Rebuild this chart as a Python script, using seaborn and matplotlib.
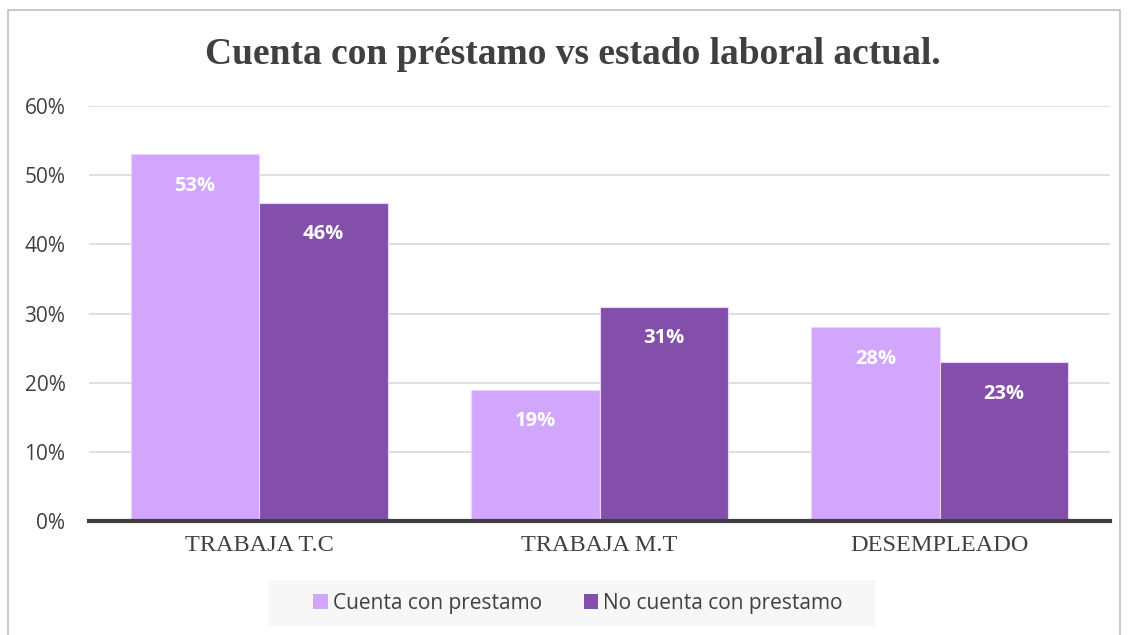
import matplotlib
matplotlib.use("Agg")
import matplotlib.pyplot as plt
import seaborn as sns
import pandas as pd
from matplotlib.patches import Rectangle

categories = ["TRABAJA T.C", "TRABAJA M.T", "DESEMPLEADO"]
series_names = ["Cuenta con prestamo", "No cuenta con prestamo"]
con_prestamo = [0.53, 0.19, 0.28]
sin_prestamo = [0.46, 0.31, 0.23]
ytick_values = [0, 0.1, 0.2, 0.3, 0.4, 0.5, 0.6]
ytick_labels = ["0%", "10%", "20%", "30%", "40%", "50%", "60%"]
colors = ["#D3A6FE", "#834FAA"]

df = pd.DataFrame({
    "cat": categories * 2,
    "serie": [series_names[0]] * 3 + [series_names[1]] * 3,
    "val": con_prestamo + sin_prestamo,
})

sns.set_theme(style="white")
plt.rcParams['font.family'] = ['Open Sans', 'DejaVu Sans']

fig = plt.figure(figsize=(11.28, 6.35), dpi=100)
fig.patch.set_facecolor("white")
# outer frame
fig.patches.append(Rectangle((8 / 1128, -0.02), 1112 / 1128, 1 - 10 / 635 + 0.02,
                             transform=fig.transFigure, fill=False,
                             edgecolor="#BFBFBF", linewidth=1.2, zorder=0))
# legend background box
fig.patches.append(Rectangle((268 / 1128, 1 - 626 / 635), (875 - 268) / 1128, 46 / 635,
                             transform=fig.transFigure, facecolor="#F7F7F7",
                             edgecolor="none", zorder=0))

ax = fig.add_axes([89 / 1128, 1 - 521 / 635, (1110 - 89) / 1128, (521 - 106) / 635])
sns.barplot(data=df, x="cat", y="val", hue="serie", palette=colors,
            width=0.755, gap=0, ax=ax, saturation=1, legend=False,
            edgecolor="#E8D4FF", linewidth=0.8)

ax.set_ylim(0, 0.6)
ax.set_xlim(-0.5, 2.5)
ax.set_yticks(ytick_values)
ax.set_yticklabels(ytick_labels, fontsize=15, color="#404040")
ax.yaxis.grid(True, color="#D9D9D9", linewidth=1.2)
ax.set_axisbelow(True)
for s in ["top", "right", "left"]:
    ax.spines[s].set_visible(False)
ax.spines["bottom"].set_color("#404040")
ax.spines["bottom"].set_linewidth(3)
ax.tick_params(axis="y", length=0, pad=17)
ax.tick_params(axis="x", length=0, pad=10)
ax.set_xticks(range(len(categories)))
ax.set_xticklabels(categories, fontsize=17.5, color="#404040", family="Liberation Serif")
ax.set_xlabel("")
ax.set_ylabel("")

for container in ax.containers:
    labels = [f"{int(round(b.get_height() * 100))}%" for b in container]
    ax.bar_label(container, labels=labels, label_type="edge", padding=-30,
                 color="white", fontsize=14.5, fontweight="bold")

fig.text(0.508, 1 - 54 / 635, "Cuenta con préstamo vs estado laboral actual.",
         ha="center", va="center", fontsize=27, fontweight="bold",
         family="Liberation Serif", color="#404040")

# legend
handles = [Rectangle((0, 0), 1, 1, facecolor=c, edgecolor="none") for c in colors]
leg = fig.legend(handles, series_names, loc="center", ncol=2,
                 bbox_to_anchor=(578 / 1128, 1 - 603 / 635), frameon=False,
                 fontsize=15, handlelength=0.7, handleheight=0.7,
                 handletextpad=0.25, columnspacing=2.0,
                 labelcolor="#404040")

fig.savefig("out.png", dpi=100)
